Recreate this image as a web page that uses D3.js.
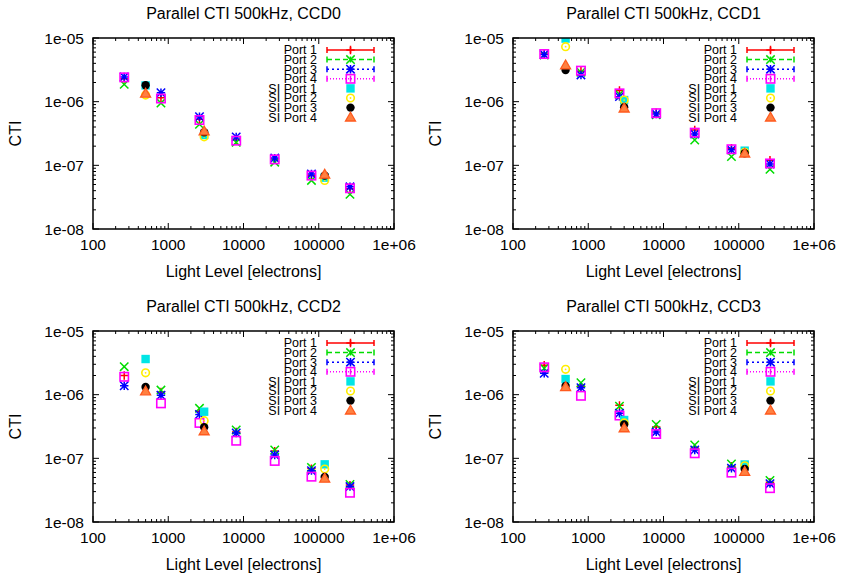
<!DOCTYPE html>
<html><head><meta charset="utf-8">
<script src="https://cdn.jsdelivr.net/npm/d3@7/dist/d3.min.js"></script>
<style>body{margin:0;background:#fff}svg{display:block}text{font-family:"Liberation Sans",Arial,sans-serif;fill:#000}</style>
</head><body><svg id="c" width="842" height="578"></svg>
<script>
const portX = [260, 800, 2600, 8000, 26000, 80000, 260000];
const siX = [500, 3000, 120000];
const ccdNames = ["CCD0", "CCD1", "CCD2", "CCD3"];
const seriesNames = ["Port 1", "Port 2", "Port 3", "Port 4", "SI Port 1", "SI Port 2", "SI Port 3", "SI Port 4"];
const xTicks = [100, 1000, 10000, 100000, 1000000];
const xTickLabels = ["100", "1000", "10000", "100000", "1e+06"];
const yTicks = [1e-8, 1e-7, 1e-6, 1e-5];
const yTickLabels = ["1e-08", "1e-07", "1e-06", "1e-05"];

const ccd0Port1 = [2.3e-6, 1.15e-6, 5.3e-7, 2.5e-7, 1.25e-7, 6.9e-8, 4.3e-8];
const ccd0Port2 = [1.87e-6, 0.95e-6, 4.4e-7, 2.3e-7, 1.12e-7, 5.8e-8, 3.5e-8];
const ccd0Port3 = [2.45e-6, 1.38e-6, 5.8e-7, 2.8e-7, 1.3e-7, 7.3e-8, 4.6e-8];
const ccd0Port4 = [2.41e-6, 1.12e-6, 5.15e-7, 2.44e-7, 1.24e-7, 6.9e-8, 4.36e-8];
const ccd0SI1 = [1.8e-6, 3.0e-7, 6.4e-8];
const ccd0SI2 = [1.27e-6, 2.8e-7, 5.8e-8];
const ccd0SI3 = [1.81e-6, 3.3e-7, 6.9e-8];
const ccd0SI4 = [1.35e-6, 3.46e-7, 7.2e-8];

const ccd1Port1 = [5.6e-6, 3.0e-6, 1.5e-6, 6.7e-7, 3.6e-7, 1.85e-7, 1.2e-7];
const ccd1Port2 = [5.4e-6, 2.9e-6, 1.3e-6, 6.2e-7, 2.5e-7, 1.37e-7, 8.65e-8];
const ccd1Port3 = [5.5e-6, 2.63e-6, 1.2e-6, 6.4e-7, 3.1e-7, 1.75e-7, 1.05e-7];
const ccd1Port4 = [5.6e-6, 3.07e-6, 1.35e-6, 6.6e-7, 3.26e-7, 1.79e-7, 1.07e-7];
const ccd1SI1 = [9.8e-6, 1.06e-6, 1.7e-7];
const ccd1SI2 = [7.3e-6, 1.06e-6, 1.6e-7];
const ccd1SI3 = [3.14e-6, 8.2e-7, 1.55e-7];
const ccd1SI4 = [3.77e-6, 7.9e-7, 1.55e-7];

const ccd2Port1 = [2.0e-6, 1.1e-6, 5.5e-7, 2.6e-7, 1.3e-7, 6.9e-8, 3.8e-8];
const ccd2Port2 = [2.75e-6, 1.18e-6, 6.1e-7, 2.79e-7, 1.35e-7, 7.2e-8, 3.9e-8];
const ccd2Port3 = [1.38e-6, 9.8e-7, 4.9e-7, 2.5e-7, 1.13e-7, 6.4e-8, 3.6e-8];
const ccd2Port4 = [1.91e-6, 7.3e-7, 3.6e-7, 1.89e-7, 9.1e-8, 5.15e-8, 2.88e-8];
const ccd2SI1 = [3.63e-6, 5.4e-7, 8.05e-8];
const ccd2SI2 = [2.2e-6, 3.9e-7, 6.8e-8];
const ccd2SI3 = [1.32e-6, 3.07e-7, 5.1e-8];
const ccd2SI4 = [1.14e-6, 2.69e-7, 4.85e-8];

const ccd3Port1 = [2.9e-6, 1.35e-6, 6.8e-7, 3.1e-7, 1.45e-7, 7.5e-8, 4.2e-8];
const ccd3Port2 = [2.6e-6, 1.54e-6, 6.6e-7, 3.4e-7, 1.62e-7, 8.15e-8, 4.5e-8];
const ccd3Port3 = [2.16e-6, 1.29e-6, 5.1e-7, 2.6e-7, 1.35e-7, 7.0e-8, 4.0e-8];
const ccd3Port4 = [2.69e-6, 9.6e-7, 4.7e-7, 2.41e-7, 1.2e-7, 5.96e-8, 3.4e-8];
const ccd3SI1 = [1.76e-6, 4.0e-7, 8.0e-8];
const ccd3SI2 = [2.5e-6, 3.6e-7, 7.65e-8];
const ccd3SI3 = [1.37e-6, 3.4e-7, 6.8e-8];
const ccd3SI4 = [1.33e-6, 3.0e-7, 6.2e-8];

const panelsData = [
  [ccd0Port1, ccd0Port2, ccd0Port3, ccd0Port4, ccd0SI1, ccd0SI2, ccd0SI3, ccd0SI4],
  [ccd1Port1, ccd1Port2, ccd1Port3, ccd1Port4, ccd1SI1, ccd1SI2, ccd1SI3, ccd1SI4],
  [ccd2Port1, ccd2Port2, ccd2Port3, ccd2Port4, ccd2SI1, ccd2SI2, ccd2SI3, ccd2SI4],
  [ccd3Port1, ccd3Port2, ccd3Port3, ccd3Port4, ccd3SI1, ccd3SI2, ccd3SI3, ccd3SI4]
];

const styles = [
  {color:"#ff0000", mk:"plus", dash:null},
  {color:"#00dd00", mk:"cross", dash:"5,3"},
  {color:"#0000ff", mk:"star", dash:"2,3"},
  {color:"#ff00ff", mk:"osq", dash:"1,2"},
  {color:"#00e5e5", mk:"fsq"},
  {color:"#ffee00", mk:"ocirc"},
  {color:"#000000", mk:"fcirc"},
  {color:"#ff5a1e", mk:"ftri"}
];

const svg = d3.select("#c");
const panelPos = [[93,38],[513,38],[93,331],[513,331]];
const W = 301, H = 191;

function marker(g, kind, color, x, y) {
  const s = 4.2;
  if (kind === "plus") {
    g.append("path").attr("d", `M${x-s},${y}H${x+s}M${x},${y-s}V${y+s}`).attr("stroke", color).attr("stroke-width", 1.5).attr("fill","none");
  } else if (kind === "cross") {
    g.append("path").attr("d", `M${x-s},${y-s}L${x+s},${y+s}M${x-s},${y+s}L${x+s},${y-s}`).attr("stroke", color).attr("stroke-width", 1.5).attr("fill","none");
  } else if (kind === "star") {
    g.append("path").attr("d", `M${x-s},${y}H${x+s}M${x},${y-s}V${y+s}M${x-s},${y-s}L${x+s},${y+s}M${x-s},${y+s}L${x+s},${y-s}`).attr("stroke", color).attr("stroke-width", 1.5).attr("fill","none");
  } else if (kind === "osq") {
    g.append("rect").attr("x", x-s).attr("y", y-s).attr("width", 2*s).attr("height", 2*s).attr("fill","none").attr("stroke", color).attr("stroke-width", 1.6);
  } else if (kind === "fsq") {
    g.append("rect").attr("x", x-s).attr("y", y-s).attr("width", 2*s).attr("height", 2*s).attr("fill", color);
  } else if (kind === "ocirc") {
    g.append("circle").attr("cx", x).attr("cy", y).attr("r", 3.8).attr("fill","none").attr("stroke", color).attr("stroke-width", 1.6);
    g.append("circle").attr("cx", x).attr("cy", y).attr("r", 0.9).attr("fill", color);
  } else if (kind === "fcirc") {
    g.append("circle").attr("cx", x).attr("cy", y).attr("r", 4.2).attr("fill", color);
  } else if (kind === "ftri") {
    g.append("path").attr("d", `M${x},${y-5}L${x+5},${y+3.8}L${x-5},${y+3.8}Z`).attr("fill", "#ff8040").attr("stroke", color).attr("stroke-width", 1.3);
  }
}

panelsData.forEach((series, pi) => {
  const [ox, oy] = panelPos[pi];
  const x = d3.scaleLog().domain([100, 1e6]).range([ox, ox + W]);
  const y = d3.scaleLog().domain([1e-8, 1e-5]).range([oy + H, oy]);
  const g = svg.append("g");

  g.append("text").attr("x", ox + W/2).attr("y", oy - 19).attr("text-anchor","middle").attr("font-size", 16).text("Parallel CTI 500kHz, " + ccdNames[pi]);
  g.append("text").attr("x", ox + W/2).attr("y", oy + H + 48).attr("text-anchor","middle").attr("font-size", 16).text("Light Level [electrons]");
  g.append("text").attr("transform", `translate(${ox-72},${oy+H/2}) rotate(-90)`).attr("text-anchor","middle").attr("font-size", 16).text("CTI");

  const tk = g.append("g").attr("stroke","#000").attr("stroke-width",1);
  const xMinor = [];
  for (let d = 100; d < 1e6; d *= 10) for (let m = 2; m <= 9; m++) xMinor.push(d*m);
  const yMinor = [];
  for (let d = 1e-8; d < 1e-5*0.99; d *= 10) for (let m = 2; m <= 9; m++) yMinor.push(d*m);
  xTicks.forEach(v => {
    tk.append("line").attr("x1", x(v)).attr("x2", x(v)).attr("y1", oy+H).attr("y2", oy+H-6);
    tk.append("line").attr("x1", x(v)).attr("x2", x(v)).attr("y1", oy).attr("y2", oy+6);
  });
  xMinor.forEach(v => {
    tk.append("line").attr("x1", x(v)).attr("x2", x(v)).attr("y1", oy+H).attr("y2", oy+H-3);
    tk.append("line").attr("x1", x(v)).attr("x2", x(v)).attr("y1", oy).attr("y2", oy+3);
  });
  yTicks.forEach(v => {
    tk.append("line").attr("x1", ox).attr("x2", ox+6).attr("y1", y(v)).attr("y2", y(v));
    tk.append("line").attr("x1", ox+W).attr("x2", ox+W-6).attr("y1", y(v)).attr("y2", y(v));
  });
  yMinor.forEach(v => {
    tk.append("line").attr("x1", ox).attr("x2", ox+3).attr("y1", y(v)).attr("y2", y(v));
    tk.append("line").attr("x1", ox+W).attr("x2", ox+W-3).attr("y1", y(v)).attr("y2", y(v));
  });
  xTicks.forEach((v,i) => {
    g.append("text").attr("x", x(v)).attr("y", oy+H+21).attr("text-anchor","middle").attr("font-size", 15.5).text(xTickLabels[i]);
  });
  yTicks.forEach((v,i) => {
    g.append("text").attr("x", ox-9).attr("y", y(v)+5.5).attr("text-anchor","end").attr("font-size", 15.5).text(yTickLabels[i]);
  });

  const lx1 = ox + 234, lx2 = ox + 281, ltx = ox + 224;
  seriesNames.forEach((nm, si) => {
    const ly = oy + 12 + si * 9.6;
    g.append("text").attr("x", ltx).attr("y", ly + 4.3).attr("text-anchor","end").attr("font-size", 12.5).text(nm);
    const st = styles[si];
    if (si < 4) {
      const ln = g.append("path").attr("d", `M${lx1},${ly}H${lx2}`)
        .attr("stroke", st.color).attr("stroke-width", 1.5).attr("fill","none");
      if (st.dash) ln.attr("stroke-dasharray", st.dash);
      g.append("path").attr("d", `M${lx1},${ly-3}V${ly+3}M${lx2},${ly-3}V${ly+3}M${(lx1+lx2)/2},${ly-3}V${ly+3}`).attr("stroke", st.color).attr("stroke-width",1.5);
    }
    marker(g, st.mk, st.color, (lx1+lx2)/2, ly);
  });

  const clipId = "clip" + pi;
  svg.append("clipPath").attr("id", clipId).append("rect").attr("x", ox).attr("y", oy).attr("width", W).attr("height", H);
  const dg = g.append("g").attr("clip-path", `url(#${clipId})`);
  series.forEach((vals, si) => {
    const xs = si < 4 ? portX : siX;
    vals.forEach((v, i) => marker(dg, styles[si].mk, styles[si].color, x(xs[i]), y(v)));
  });

  g.append("rect").attr("x", ox).attr("y", oy).attr("width", W).attr("height", H).attr("fill","none").attr("stroke","#000").attr("stroke-width",1.5);
});
</script></body></html>
